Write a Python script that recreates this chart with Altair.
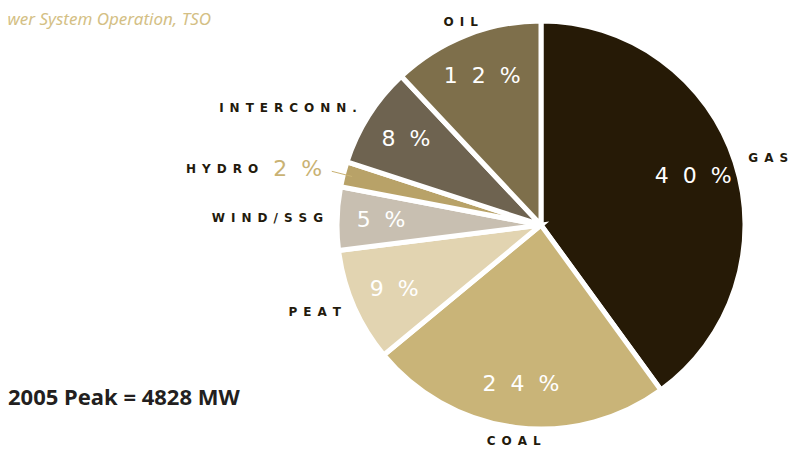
import math
import altair as alt
import pandas as pd

# ---- data ----
categories = ["GAS", "COAL", "PEAT", "WIND/SSG", "HYDRO", "INTERCONN.", "OIL"]
shares = [40, 24, 9, 5, 2, 8, 12]
colors = ["#261a06", "#c9b478", "#e2d4b1", "#c8bfb1", "#b8a268", "#6e6350", "#7e6f4b"]
title_text = "wer System Operation, TSO"
note_text = "2005 Peak = 4828 MW"

df = pd.DataFrame({"cat": categories, "share": shares, "order": list(range(len(categories)))})
df["label"] = ["\u2002".join(c) for c in categories]
df["pct"] = ["\u2007".join(f"{s}%") for s in shares]

CX, CY, R = 533, 217, 204
TAU = 2 * math.pi
R_IN = 160
R_OUT = 218
R_SMALL = 226

base = (
    alt.Chart(df)
    .transform_window(cum="sum(share)", sort=[alt.SortField("order")])
    .transform_calculate(
        a0=f"(datum.cum - datum.share) / 100 * {TAU}",
        a1=f"datum.cum / 100 * {TAU}",
    )
    .transform_calculate(mid="(datum.a0 + datum.a1) / 2")
)

pie = base.mark_arc(radius=R, stroke="white", strokeWidth=5).encode(
    theta=alt.Theta("a0:Q", scale=None),
    theta2="a1:Q",
    color=alt.Color("cat:N", scale=alt.Scale(domain=categories, range=colors), legend=None),
    x=alt.value(CX),
    y=alt.value(CY),
)

inner = (
    base.transform_filter("datum.share >= 3")
    .transform_calculate(
        px=f"{CX} + {R_IN} * sin(datum.mid)",
        py=f"{CY} - {R_IN} * cos(datum.mid)",
    )
    .mark_text(font="DejaVu Sans", fontSize=22, color="white", align="center", baseline="middle")
    .encode(x=alt.X("px:Q", scale=None), y=alt.Y("py:Q", scale=None), text="pct:N")
)

small_pct = (
    base.transform_filter("datum.share < 3")
    .transform_calculate(
        px=f"{CX} + {R_SMALL} * sin(datum.mid)",
        py=f"{CY} - {R_SMALL} * cos(datum.mid)",
    )
    .mark_text(font="DejaVu Sans", fontSize=22, color="#c9b273", align="right", baseline="middle")
    .encode(x=alt.X("px:Q", scale=None), y=alt.Y("py:Q", scale=None), text="pct:N")
)

leader = (
    base.transform_filter("datum.share < 3")
    .transform_calculate(
        x1=f"{CX} + 216 * sin(datum.mid)",
        y1=f"{CY} - 216 * cos(datum.mid)",
        x2=f"{CX} + 195 * sin(datum.mid)",
        y2=f"{CY} - 195 * cos(datum.mid)",
    )
    .mark_rule(color="#c9b273", strokeWidth=1)
    .encode(
        x=alt.X("x1:Q", scale=None),
        y=alt.Y("y1:Q", scale=None),
        x2="x2:Q",
        y2="y2:Q",
    )
)


def outer(filter_expr, align):
    return (
        base.transform_filter(filter_expr)
        .transform_calculate(
            rr=f"datum.share < 3 ? {R_SMALL} : {R_OUT}",
        )
        .transform_calculate(
            px=f"{CX} + datum.rr * sin(datum.mid) - (datum.share < 3 ? 64 : 0)",
            py=f"{CY} - datum.rr * cos(datum.mid)",
        )
        .mark_text(font="DejaVu Sans", fontSize=12, fontWeight="bold", color="#231a0c",
                   align=align, baseline="middle")
        .encode(x=alt.X("px:Q", scale=None), y=alt.Y("py:Q", scale=None), text="label:N")
    )


lab_left = outer("sin(datum.mid) > 0.4", "left")
lab_right = outer("sin(datum.mid) < -0.4", "right")
lab_center = outer("abs(sin(datum.mid)) <= 0.4", "center")

title = (
    alt.Chart(pd.DataFrame({"t": [title_text]}))
    .mark_text(align="right", baseline="alphabetic", font="Noto Sans", fontStyle="italic",
               fontSize=17, color="#d4bf85")
    .encode(x=alt.value(203), y=alt.value(17), text="t:N")
)

note = (
    alt.Chart(pd.DataFrame({"t": [note_text]}))
    .mark_text(align="left", baseline="alphabetic", font="Noto Sans", fontWeight="bold",
               fontSize=22, color="#231f20")
    .encode(x=alt.value(0), y=alt.value(397), text="t:N")
)

chart = (
    alt.layer(pie, inner, leader, small_pct, lab_left, lab_right, lab_center, title, note)
    .properties(width=786, height=440, autosize="none", padding=0)
    .configure_view(stroke=None)
)

chart.save("out.html", embed_options={"renderer": "svg", "actions": False})
